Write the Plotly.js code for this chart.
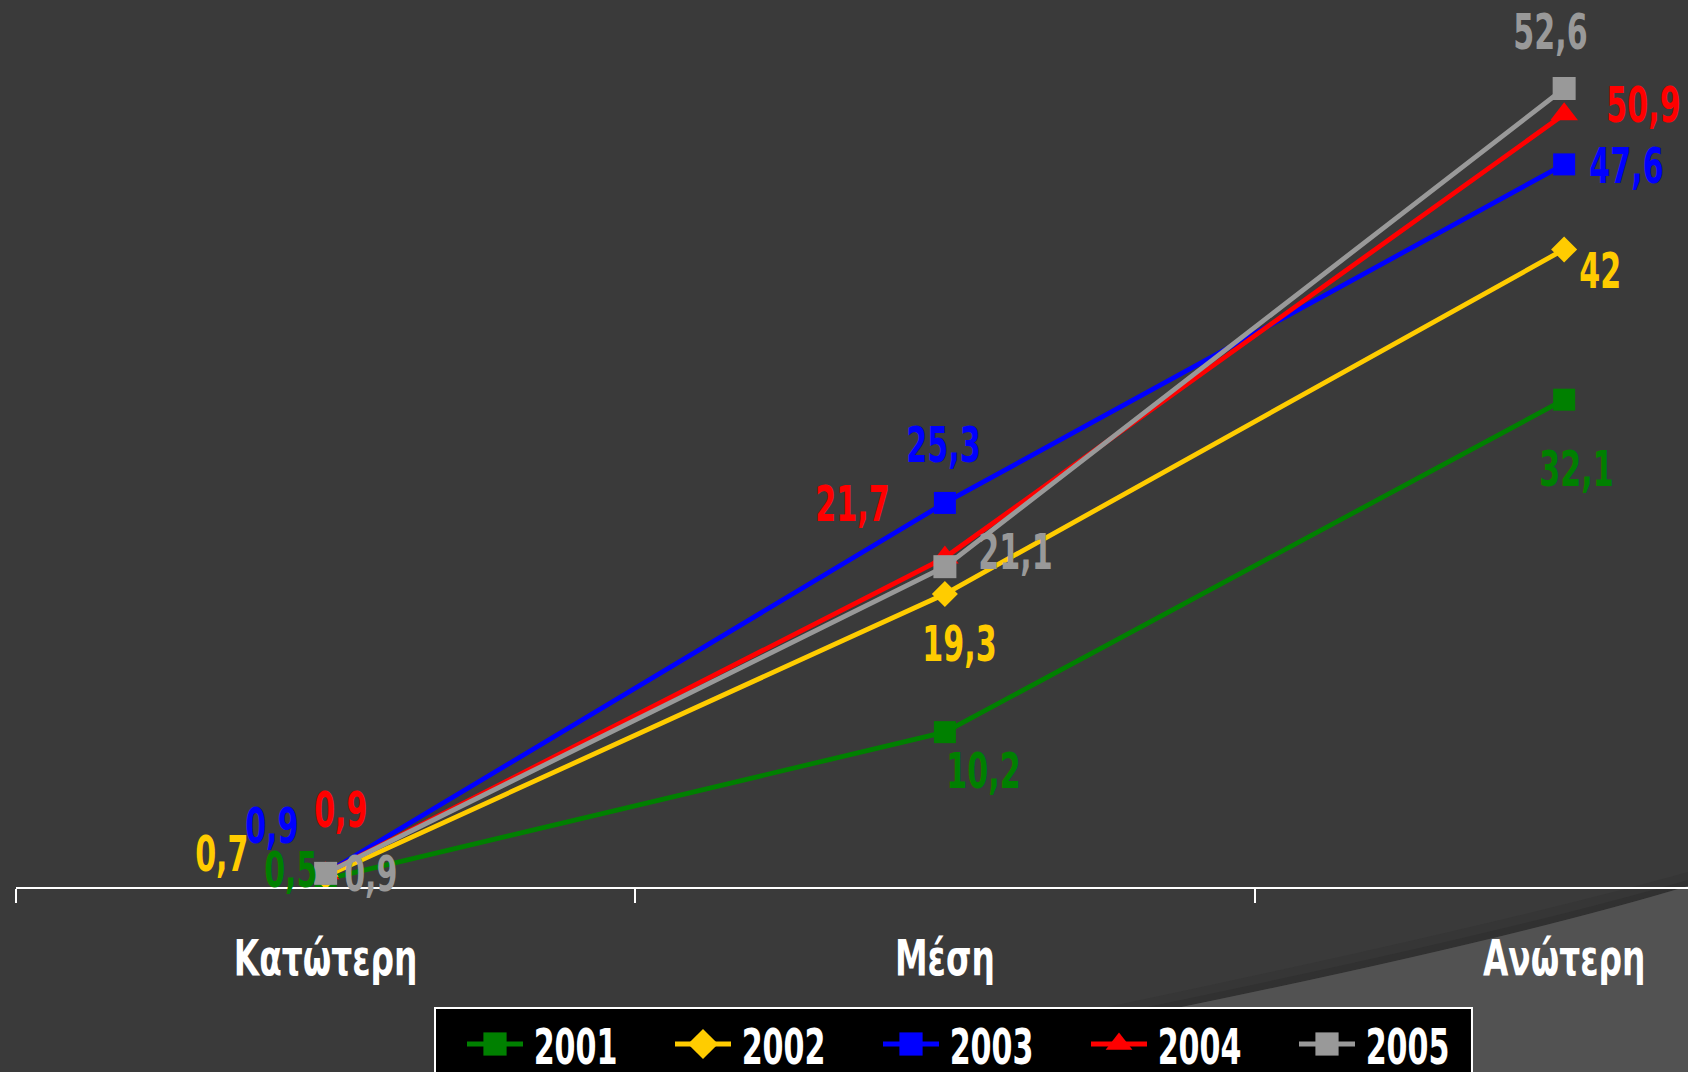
<!DOCTYPE html>
<html>
<head>
<meta charset="utf-8">
<script src="https://cdn.plot.ly/plotly-3.0.1.min.js"></script>
<style>
html,body{margin:0;padding:0;background:#3a3a3a;}
#chart{width:1688px;height:1072px;}
/* narrow the bold type, as in the original (condensed face) */
#chart .annotation-text {
  transform-box: fill-box; transform-origin: center; transform: scaleX(0.67);
}
#chart .legendtext {
  transform-box: fill-box; transform-origin: center; transform: translateX(-15px) scaleX(0.67);
}
#chart g.xtick {
  transform-box: fill-box; transform-origin: center; transform: scaleX(0.73);
}
</style>
</head>
<body>
<div id="chart"></div>
<script>
// ---- data ----
const categories = ["Κατώτερη", "Μέση", "Ανώτερη"];
const years = ["2001", "2002", "2003", "2004", "2005"];
const values2001 = [0.5, 10.2, 32.1];
const values2002 = [0.7, 19.3, 42];
const values2003 = [0.9, 25.3, 47.6];
const values2004 = [0.9, 21.7, 50.9];
const values2005 = [0.9, 21.1, 52.6];

// ---- styles ----
const seriesValues = [values2001, values2002, values2003, values2004, values2005];
const colors = ["#008000", "#FFCC00", "#0000FF", "#FF0000", "#999999"];
const symbols = ["square", "diamond", "square", "triangle-up", "square"];
const markerSizes = [22, 20, 22, 24, 23];
// label pixel offsets [dx, dy] (screen, dy down) per series per category
const labelOffsets = [
  [[-35, -9], [39, 39], [12, 69]],
  [[-104, -22], [15, 50], [36, 22]],
  [[-54, -47], [-1, -58], [62, 2]],
  [[15, -63], [-92, -54], [79, -9]],
  [[45, 1], [71, -15], [-14, -56]]
];

const FONT = '"DejaVu Sans Condensed", "DejaVu Sans", sans-serif';

const traces = seriesValues.map((vals, i) => ({
  type: "scatter",
  mode: "lines+markers",
  name: years[i],
  x: categories,
  y: vals,
  line: {color: colors[i], width: 4.8},
  marker: {color: colors[i], symbol: symbols[i], size: markerSizes[i]},
  hoverinfo: "skip"
}));

const fmt = v => String(v).replace(".", ",");
const annotations = [];
seriesValues.forEach((vals, i) => {
  vals.forEach((v, j) => {
    annotations.push({
      x: categories[j], y: v, xref: "x", yref: "y",
      text: fmt(v), showarrow: false,
      xshift: labelOffsets[i][j][0], yshift: -labelOffsets[i][j][1],
      font: {family: FONT, size: 50, color: colors[i], weight: "bold"}
    });
  });
});

// plot area geometry (pixels) for decoration shapes
const L = 16, T = 10, W = 1688, H = 1072, B = 185;
const pw = W - L, ph = H - T - B;
const px = x => ((x - L) / pw).toFixed(4);
const py = y => ((H - B - y) / ph).toFixed(4);
const P = (x, y) => `${px(x)} ${py(y)}`;
const lightPath = `M ${P(1688, 886)} Q ${P(1437, 962)} ${P(850, 1072)} L ${P(1688, 1080)} Z`;
const shadow1 = `M ${P(1688, 872)} Q ${P(1430, 944)} ${P(790, 1072)} L ${P(850, 1072)} Q ${P(1437, 962)} ${P(1688, 886)} Z`;
const shadow2 = `M ${P(1688, 880)} Q ${P(1434, 954)} ${P(820, 1072)} L ${P(850, 1072)} Q ${P(1437, 962)} ${P(1688, 886)} Z`;
const boxPath = `M ${P(435, 1008)} L ${P(1472, 1008)} L ${P(1472, 1080)} L ${P(435, 1080)} Z`;

const layout = {
  width: W, height: H,
  paper_bgcolor: "#3a3a3a",
  plot_bgcolor: "rgba(0,0,0,0)",
  margin: {l: L, r: 0, t: T, b: B, pad: 0},
  showlegend: true,
  legend: {
    orientation: "h",
    xref: "container", yref: "container",
    x: 462 / W, xanchor: "left",
    y: 1 - 1005 / H, yanchor: "top",
    bgcolor: "rgba(0,0,0,0)", borderwidth: 0,
    font: {family: FONT, size: 50, color: "#ffffff", weight: "bold"},
    entrywidth: 137, entrywidthmode: "pixels",
    itemwidth: 56,
    traceorder: "normal"
  },
  xaxis: {
    type: "category",
    range: [-0.5, 2.2],
    tickson: "boundaries",
    ticks: "outside", ticklen: 14, tickwidth: 2, tickcolor: "#ffffff",
    showline: true, linecolor: "#ffffff", linewidth: 2,
    showgrid: false, zeroline: false,
    tickfont: {family: FONT, size: 50, color: "#ffffff", weight: "bold"},
    ticklabelstandoff: 26,
    fixedrange: true
  },
  yaxis: {
    range: [0, 57.77],
    visible: false, showgrid: false, zeroline: false,
    fixedrange: true
  },
  shapes: [
    {type: "path", xref: "paper", yref: "paper", path: shadow1, fillcolor: "#363636", line: {width: 0}, layer: "below"},
    {type: "path", xref: "paper", yref: "paper", path: shadow2, fillcolor: "#313131", line: {width: 0}, layer: "below"},
    {type: "path", xref: "paper", yref: "paper", path: lightPath, fillcolor: "#525252", line: {width: 0}, layer: "below"},
    {type: "path", xref: "paper", yref: "paper", path: boxPath, fillcolor: "#000000", line: {width: 2, color: "#ffffff"}, layer: "above"}
  ],
  annotations: annotations
};

Plotly.newPlot("chart", traces, layout, {displayModeBar: false, staticPlot: true}).then(gd => {
  // legend symbols are size-capped by the library; enlarge them to match the original
  gd.querySelectorAll(".legendpoints path.scatterpts").forEach(p => {
    const t = p.getAttribute("transform");
    if (t && t.indexOf("translate") >= 0) p.setAttribute("transform", t + " scale(1.45)");
  });
});
</script>
</body>
</html>
